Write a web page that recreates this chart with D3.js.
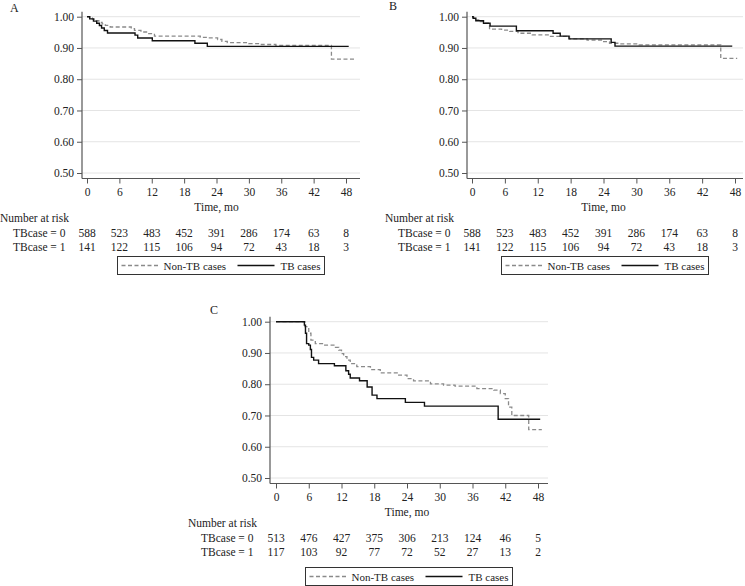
<!DOCTYPE html>
<html>

<head>
    <meta charset="utf-8">
    <style>
        body {
            margin: 0;
            background: white;
        }

        svg text {
            font-family: "Liberation Serif", "Times New Roman", "DejaVu Serif", serif !important;
        }
    </style>
</head>

<body>
    <svg width="745" height="586"></svg>
</body>

<script src="https://d3js.org/d3.v7.min.js"></script>

<script>
    // tick values and labels
    let timeTicks = [0, 6, 12, 18, 24, 30, 36, 42, 48];
    let survTicks = [0.5, 0.6, 0.7, 0.8, 0.9, 1.0];
    let panelNames = ["A", "B", "C"];
    let seriesNames = ["Non-TB cases", "TB cases"];
    let riskRowNames = ["TBcase = 0", "TBcase = 1"];

    // survival curves, [month, survival]
    let nonTbA = [[0, 1], [0.5, 0.996], [1, 0.992], [1.6, 0.987], [2.2, 0.982], [2.8, 0.977], [3.4, 0.972],
        [4.3, 0.967], [8.2, 0.962], [8.8, 0.956], [10, 0.951], [11.2, 0.946], [12.5, 0.938], [21, 0.934],
        [22.5, 0.932], [24.2, 0.927], [25, 0.921], [26, 0.917], [30, 0.914], [32, 0.911], [35, 0.908],
        [45.3, 0.864], [49.5, 0.864]];
    let tbA = [[0, 1], [0.5, 0.993], [1.2, 0.986], [1.8, 0.979], [2.3, 0.972], [2.7, 0.964], [3.2, 0.956],
        [3.8, 0.948], [8.9, 0.941], [9.4, 0.932], [12.1, 0.923], [20.0, 0.915], [22.3, 0.905], [48.5, 0.905]];

    let nonTbB = [[0, 1], [0.3, 0.99], [1.5, 0.984], [2.4, 0.979], [3.2, 0.96], [5.4, 0.957], [6.9, 0.953],
        [8.4, 0.947], [11, 0.942], [14.2, 0.937], [17.8, 0.929], [21, 0.925], [23.9, 0.92], [25.1, 0.915],
        [27, 0.913], [30.5, 0.91], [45.4, 0.867], [48.4, 0.867]];
    let tbB = [[0, 1], [0.2, 0.995], [0.7, 0.987], [2.1, 0.979], [3.3, 0.97], [8.1, 0.955], [14.8, 0.947],
        [16.1, 0.938], [17.7, 0.929], [25.4, 0.918], [26.1, 0.906], [47.5, 0.906]];

    let nonTbC = [[0, 1], [5.3, 0.984], [6.0, 0.963], [6.4, 0.941], [7.2, 0.93], [8.7, 0.925], [10.9, 0.918],
        [11.5, 0.909], [12.0, 0.898], [12.4, 0.888], [13.0, 0.877], [13.6, 0.866], [14.8, 0.856],
        [17.3, 0.847], [19.1, 0.836], [22.2, 0.829], [24.0, 0.818], [25.2, 0.811], [28.3, 0.801],
        [30.7, 0.797], [32.8, 0.794], [36.8, 0.786], [39.9, 0.781], [41.1, 0.77], [42.0, 0.754],
        [42.6, 0.727], [43.2, 0.70], [46.3, 0.655], [48.7, 0.655]];
    let tbC = [[0, 1], [5.2, 0.989], [5.4, 0.963], [5.6, 0.93], [6.0, 0.925], [6.3, 0.911], [6.5, 0.886],
        [6.9, 0.877], [7.8, 0.866], [10.7, 0.859], [12.8, 0.843], [13.3, 0.832], [13.6, 0.82],
        [15.3, 0.811], [16.7, 0.791], [17.6, 0.765], [18.5, 0.754], [23.7, 0.742], [27.2, 0.73],
        [40.7, 0.688], [48.4, 0.688]];

    // number at risk
    let riskNonTbAB = [588, 523, 483, 452, 391, 286, 174, 63, 8];
    let riskTbAB = [141, 122, 115, 106, 94, 72, 43, 18, 3];
    let riskNonTbC = [513, 476, 427, 375, 306, 213, 124, 46, 5];
    let riskTbC = [117, 103, 92, 77, 72, 52, 27, 13, 2];

    let svg = d3.select("svg")

    let panels = [
        { name: panelNames[0], axisX: 82, top: 16.7, x0: 87, x48: 346, right: 360, curves: [nonTbA, tbA], risk: [riskNonTbAB, riskTbAB], labelX: 10, labelY: 12, legendDy: 78 },
        { name: panelNames[1], axisX: 467, top: 16.7, x0: 472, x48: 735, right: 743, curves: [nonTbB, tbB], risk: [riskNonTbAB, riskTbAB], labelX: 389, labelY: 10, legendDy: 78 },
        { name: panelNames[2], axisX: 270, top: 321.7, x0: 276, x48: 538, right: 548, curves: [nonTbC, tbC], risk: [riskNonTbC, riskTbC], labelX: 210, labelY: 314, legendDy: 84 }
    ]

    let plotH = 156.3  // distance from 1.00 to 0.50

    panels.forEach(p => {
        let x = d3.scaleLinear().domain([0, 48]).range([p.x0, p.x48])
        let y = d3.scaleLinear().domain([0.5, 1]).range([p.top + plotH, p.top])
        let axisY = p.top + plotH + 5.5
        let g = svg.append("g")

        // panel letter
        g.append("text")
            .attr("x", p.labelX)
            .attr("y", p.labelY)
            .attr("font-size", 12)
            .attr("fill", "#222")
            .text(p.name)

        // grid lines
        g.append("g")
            .selectAll("line")
            .data(survTicks)
            .join("line")
            .attr("x1", p.axisX)
            .attr("x2", p.right)
            .attr("y1", d => y(d))
            .attr("y2", d => y(d))
            .attr("stroke", "#e4e4e4")
            .attr("stroke-width", 1)

        // y axis
        let yAxis = g.append("g")
            .attr("transform", `translate(${p.axisX},0)`)
            .call(d3.axisLeft(y).tickValues(survTicks).tickFormat(d3.format(".2f")).tickSize(5).tickPadding(3))
        yAxis.select(".domain").attr("d", `M0,${p.top - 5}V${axisY}`)

        // x axis
        let xAxis = g.append("g")
            .attr("transform", `translate(0,${axisY})`)
            .call(d3.axisBottom(x).tickValues(timeTicks).tickSize(5).tickPadding(4))
        xAxis.select(".domain").attr("d", `M${p.axisX},0H${p.right}`)

        g.selectAll(".tick text").attr("font-size", 11.5).attr("fill", "#222")
        g.selectAll(".domain").attr("stroke", "#555").attr("stroke-width", 1.2)
        g.selectAll(".tick line").attr("stroke", "#555")

        g.append("text")
            .attr("x", (p.x0 + p.x48) / 2)
            .attr("y", axisY + 32)
            .attr("text-anchor", "middle")
            .attr("font-size", 11.5)
            .attr("fill", "#222")
            .text("Time, mo")

        // survival curves
        let line = d3.line()
            .x(d => x(d[0]))
            .y(d => y(d[1]))
            .curve(d3.curveStepAfter)

        g.append("path")
            .datum(p.curves[0])
            .attr("d", line)
            .attr("fill", "none")
            .attr("stroke", "#8a8a8a")
            .attr("stroke-width", 1.3)
            .attr("stroke-dasharray", "4,2.5")

        g.append("path")
            .datum(p.curves[1])
            .attr("d", line)
            .attr("fill", "none")
            .attr("stroke", "#111")
            .attr("stroke-width", 1.4)

        // number at risk table
        g.append("text")
            .attr("x", p.axisX - 82)
            .attr("y", axisY + 43)
            .attr("font-size", 11.5)
            .attr("fill", "#222")
            .text("Number at risk")

        p.risk.forEach((row, i) => {
            let ry = axisY + 58 + i * 14
            g.append("text")
                .attr("x", p.axisX - 69)
                .attr("y", ry)
                .attr("font-size", 11.5)
                .attr("fill", "#222")
                .text(riskRowNames[i])
            g.append("g")
                .selectAll("text")
                .data(row)
                .join("text")
                .attr("x", (d, j) => x(timeTicks[j]))
                .attr("y", ry)
                .attr("text-anchor", "middle")
                .attr("font-size", 11.5)
                .attr("fill", "#222")
                .text(d => d)
        })

        // legend
        let cx = (p.axisX + p.right) / 2
        let lw = 207
        let ly = axisY + p.legendDy
        let lg = g.append("g").attr("transform", `translate(${cx - lw / 2},${ly})`)
        lg.append("rect")
            .attr("width", lw)
            .attr("height", 18)
            .attr("fill", "white")
            .attr("stroke", "#333")
            .attr("stroke-width", 1)
        lg.append("line")
            .attr("x1", 4).attr("x2", 42).attr("y1", 9).attr("y2", 9)
            .attr("stroke", "#8a8a8a").attr("stroke-width", 1.3).attr("stroke-dasharray", "4,2.5")
        lg.append("text")
            .attr("x", 46).attr("y", 13).attr("font-size", 11).attr("fill", "#222")
            .text(seriesNames[0])
        lg.append("line")
            .attr("x1", 120).attr("x2", 157).attr("y1", 9).attr("y2", 9)
            .attr("stroke", "#111").attr("stroke-width", 1.4)
        lg.append("text")
            .attr("x", 163).attr("y", 13).attr("font-size", 11).attr("fill", "#222")
            .text(seriesNames[1])
    })
</script>

</html>
